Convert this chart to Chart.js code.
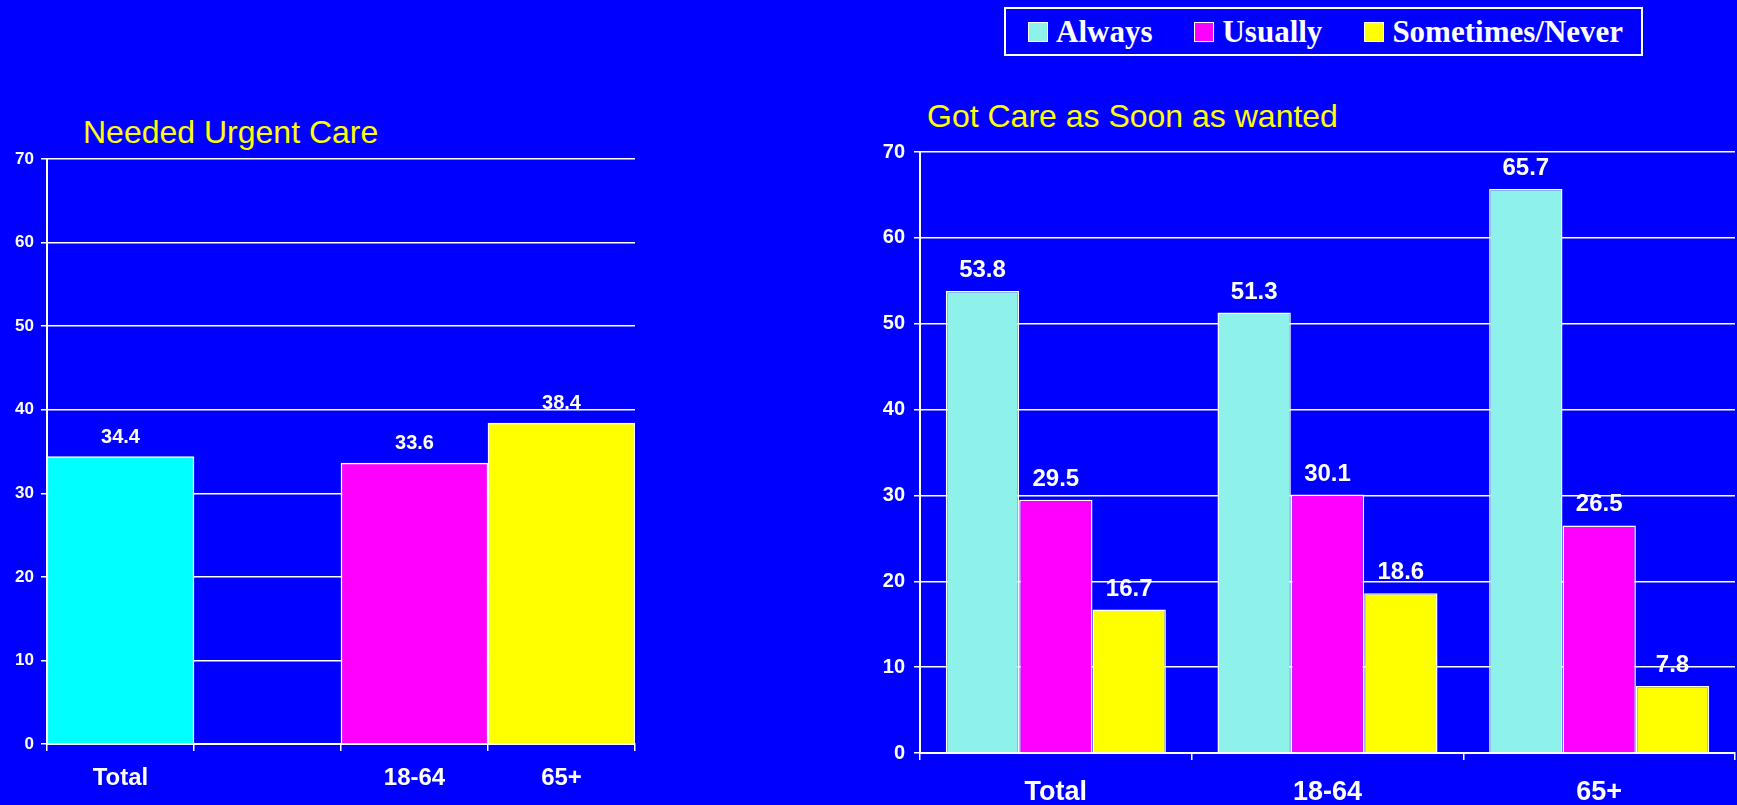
<!DOCTYPE html>
<html>
<head>
<meta charset="utf-8">
<title>Urgent Care</title>
<script src="https://cdn.jsdelivr.net/npm/chart.js@4.4.1/dist/chart.umd.min.js"></script>
<style>
    html, body { margin: 0; padding: 0; background: #0000FF; overflow: hidden; }
    body { position: relative; width: 1737px; height: 805px; font-family: 'Liberation Sans', Arial, sans-serif; }
    canvas { position: absolute; top: 0; }
    #urgent-chart { left: 0; }
    #soon-chart { left: 860px; }
    .chart-title { position: absolute; color: #FFFF00; font-size: 32px; line-height: 1; white-space: nowrap; }
    #urgent-title { left: 83px; top: 116px; }
    #soon-title { left: 927px; top: 100px; }
    #legend {
        position: absolute; left: 1004px; top: 7px; width: 613px; height: 45px;
        border: 2px solid #fff; display: flex; align-items: center; padding-left: 22px; box-sizing: content-box;
        font-family: 'Liberation Serif', 'Times New Roman', serif; font-weight: bold; font-size: 31px; color: #fff;
    }
    #legend .item { display: flex; align-items: center; margin-right: 42px; white-space: nowrap; }
    #legend .swatch { width: 18px; height: 18px; border: 1px solid #fff; margin-right: 8px; }
</style>
</head>
<body>
<div class="chart-title" id="urgent-title">Needed Urgent Care</div>
<div class="chart-title" id="soon-title">Got Care as Soon as wanted</div>
<div id="legend"></div>
<canvas id="urgent-chart" width="660" height="805"></canvas>
<canvas id="soon-chart" width="877" height="805"></canvas>
<script>
// Needed urgent care (one bar per group, second slot left empty)
var urgentCategories = ['Total', '', '18-64', '65+'];
var urgentValues = [34.4, null, 33.6, 38.4];

// Got care as soon as wanted
var soonCategories = ['Total', '18-64', '65+'];
var seriesNames = ['Always', 'Usually', 'Sometimes/Never'];
var alwaysValues = [53.8, 51.3, 65.7];
var usuallyValues = [29.5, 30.1, 26.5];
var sometimesNeverValues = [16.7, 18.6, 7.8];

var yMin = 0;
var yMax = 70;
var yStep = 10;

var seriesColors = ['#8EF2EA', '#FF00FF', '#FFFF00'];
var urgentColors = ['#00FFFF', 'transparent', '#FF00FF', '#FFFF00'];

Chart.defaults.font.family = "'Liberation Sans', Arial, sans-serif";
Chart.defaults.color = '#fff';

// value labels above each bar
var valueLabels = {
    id: 'valueLabels',
    afterDatasetsDraw: function (chart, args, opts) {
        var ctx = chart.ctx;
        ctx.save();
        ctx.fillStyle = '#fff';
        ctx.font = 'bold ' + opts.size + "px 'Liberation Sans', Arial, sans-serif";
        ctx.textAlign = 'center';
        ctx.textBaseline = 'alphabetic';
        chart.data.datasets.forEach(function (ds, i) {
            var meta = chart.getDatasetMeta(i);
            meta.data.forEach(function (bar, j) {
                var v = ds.data[j];
                if (v === null || v === undefined) return;
                ctx.fillText(v.toFixed(1), bar.x, bar.y - opts.gap);
            });
        });
        ctx.restore();
    }
};

function yScale(width, tickSize, pad) {
    return {
        min: yMin, max: yMax,
        afterFit: function (s) { s.width = width; },
        ticks: { stepSize: yStep, padding: pad, color: '#fff', font: { size: tickSize, weight: 'bold' } },
        grid: { color: '#fff', lineWidth: 1.5, tickLength: 6 },
        border: { display: true, color: '#fff', width: 2 }
    };
}

function xScale(height, labelSize, pad) {
    return {
        afterFit: function (s) { s.height = height; },
        ticks: { padding: pad, color: '#fff', font: { size: labelSize, weight: 'bold' }, maxRotation: 0, autoSkip: false },
        grid: { drawOnChartArea: false, drawTicks: true, tickLength: 7, color: '#fff', lineWidth: 1.5 },
        border: { display: true, color: '#fff', width: 2 }
    };
}

new Chart(document.getElementById('urgent-chart'), {
    type: 'bar',
    data: {
        labels: urgentCategories,
        datasets: [{
            label: 'Needed Urgent Care',
            data: urgentValues,
            backgroundColor: urgentColors,
            borderColor: '#fff',
            borderWidth: 1.5,
            categoryPercentage: 1,
            barPercentage: 1
        }]
    },
    options: {
        responsive: false,
        devicePixelRatio: 1,
        animation: false,
        layout: { padding: { top: 159, right: 25, left: 0, bottom: 0 } },
        scales: {
            x: xScale(61, 24, 13),
            y: yScale(47, 17, 7)
        },
        plugins: {
            legend: { display: false },
            tooltip: { enabled: false },
            valueLabels: { size: 20, gap: 14 }
        }
    },
    plugins: [valueLabels]
});

var soonSeries = [alwaysValues, usuallyValues, sometimesNeverValues];

new Chart(document.getElementById('soon-chart'), {
    type: 'bar',
    data: {
        labels: soonCategories,
        datasets: soonSeries.map(function (values, i) {
            return {
                label: seriesNames[i],
                data: values,
                backgroundColor: seriesColors[i],
                borderColor: '#fff',
                borderWidth: 1.5,
                categoryPercentage: 0.81,
                barPercentage: 1
            };
        })
    },
    options: {
        responsive: false,
        devicePixelRatio: 1,
        animation: false,
        layout: { padding: { top: 152, right: 2, left: 0, bottom: 0 } },
        scales: {
            x: xScale(52, 27, 16),
            y: yScale(60, 20, 9)
        },
        plugins: {
            legend: { display: false },
            tooltip: { enabled: false },
            valueLabels: { size: 24, gap: 14 }
        }
    },
    plugins: [valueLabels]
});

// legend for the grouped chart
var legendEl = document.getElementById('legend');
seriesNames.forEach(function (name, i) {
    var item = document.createElement('div');
    item.className = 'item';
    item.innerHTML = '<span class="swatch" style="background:' + seriesColors[i] + '"></span><span>' + name + '</span>';
    legendEl.appendChild(item);
});
</script>
</body>
</html>
